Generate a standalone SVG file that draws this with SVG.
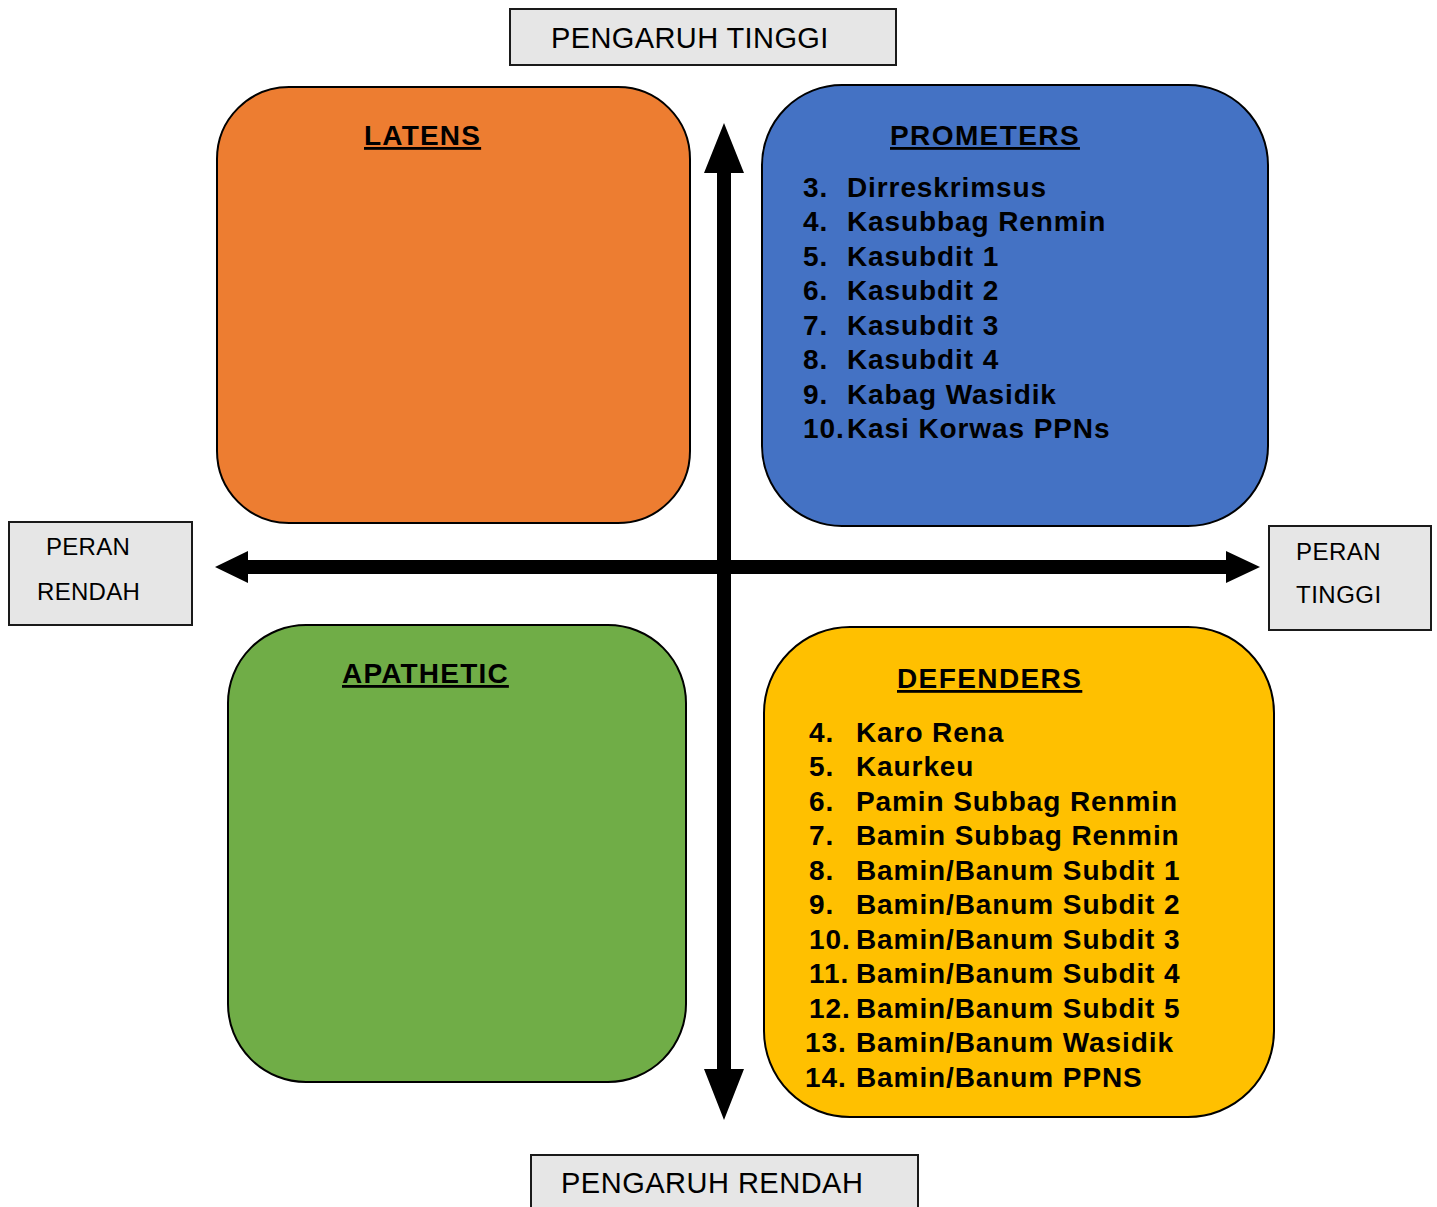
<svg xmlns="http://www.w3.org/2000/svg" width="1437" height="1207" viewBox="0 0 1437 1207">
<style>
.lbl{fill:#e6e6e6;stroke:#1a1a1a;stroke-width:2}
.lt{font-family:"Liberation Sans",Arial,sans-serif;fill:#000}
.quad{stroke:#000;stroke-width:2}
.title{font-family:"Liberation Sans",Arial,sans-serif;font-weight:bold;font-size:28px;text-decoration:underline;fill:#000}
.li{font-family:"Liberation Sans",Arial,sans-serif;font-weight:bold;font-size:28px;letter-spacing:0.9px;fill:#000}
.ax{fill:#000}
</style>
<rect width="1437" height="1207" fill="#fff"/>
<g id="connectors">
<path class="ax" d="M724,123 L744,173 L731,173 L731,1069 L744,1069 L724,1120 L704,1069 L717,1069 L717,173 L704,173 Z"/>
<path class="ax" d="M215,567 L248,551 L248,560 L1226,560 L1226,551 L1260,567 L1226,583 L1226,574 L248,574 L248,583 Z"/>
</g>
<g id="pengaruh-tinggi">
<rect class="lbl" x="510" y="9" width="386" height="56"/>
<text class="lt" x="551" y="48" font-size="29" letter-spacing="0.4">PENGARUH TINGGI</text>
</g>
<g id="pengaruh-rendah">
<rect class="lbl" x="531" y="1155" width="387" height="60"/>
<text class="lt" x="561" y="1193" font-size="29" letter-spacing="0.5">PENGARUH RENDAH</text>
</g>
<g id="peran-rendah">
<rect class="lbl" x="9" y="522" width="183" height="103"/>
<text class="lt" x="46" y="555" font-size="24" letter-spacing="0.3">PERAN</text>
<text class="lt" x="37" y="600" font-size="24" letter-spacing="0.3">RENDAH</text>
</g>
<g id="peran-tinggi">
<rect class="lbl" x="1269" y="526" width="162" height="104"/>
<text class="lt" x="1296" y="560" font-size="24" letter-spacing="0.5">PERAN</text>
<text class="lt" x="1296" y="603" font-size="24" letter-spacing="0.5">TINGGI</text>
</g>
<g id="latens">
<rect class="quad" x="217" y="87" width="473" height="436" rx="72" fill="#ED7D31"/>
<text class="title" x="364" y="145" letter-spacing="1.2">LATENS</text>
</g>
<g id="prometers">
<rect class="quad" x="762" y="85" width="506" height="441" rx="80" fill="#4472C4"/>
<text class="title" x="890" y="145" letter-spacing="1.4">PROMETERS</text>
<g class="li">
<text x="803" y="197">3.</text><text x="847" y="197">Dirreskrimsus</text>
<text x="803" y="231">4.</text><text x="847" y="231">Kasubbag Renmin</text>
<text x="803" y="266">5.</text><text x="847" y="266">Kasubdit 1</text>
<text x="803" y="300">6.</text><text x="847" y="300">Kasubdit 2</text>
<text x="803" y="335">7.</text><text x="847" y="335">Kasubdit 3</text>
<text x="803" y="369">8.</text><text x="847" y="369">Kasubdit 4</text>
<text x="803" y="404">9.</text><text x="847" y="404">Kabag Wasidik</text>
<text x="803" y="438">10.</text><text x="847" y="438">Kasi Korwas PPNs</text>
</g>
</g>
<g id="apathetic">
<rect class="quad" x="228" y="625" width="458" height="457" rx="78" fill="#70AD47"/>
<text class="title" x="342" y="683" letter-spacing="1.2">APATHETIC</text>
</g>
<g id="defenders">
<rect class="quad" x="764" y="627" width="510" height="490" rx="86" fill="#FFC000"/>
<text class="title" x="897" y="688" letter-spacing="1.4">DEFENDERS</text>
<g class="li">
<text x="809" y="742">4.</text><text x="856" y="742">Karo Rena</text>
<text x="809" y="776">5.</text><text x="856" y="776">Kaurkeu</text>
<text x="809" y="811">6.</text><text x="856" y="811">Pamin Subbag Renmin</text>
<text x="809" y="845">7.</text><text x="856" y="845">Bamin Subbag Renmin</text>
<text x="809" y="880">8.</text><text x="856" y="880">Bamin/Banum Subdit 1</text>
<text x="809" y="914">9.</text><text x="856" y="914">Bamin/Banum Subdit 2</text>
<text x="809" y="949">10.</text><text x="856" y="949">Bamin/Banum Subdit 3</text>
<text x="809" y="983">11.</text><text x="856" y="983">Bamin/Banum Subdit 4</text>
<text x="809" y="1018">12.</text><text x="856" y="1018">Bamin/Banum Subdit 5</text>
<text x="805" y="1052">13.</text><text x="856" y="1052">Bamin/Banum Wasidik</text>
<text x="805" y="1087">14.</text><text x="856" y="1087">Bamin/Banum PPNS</text>
</g>
</g>
</svg>
